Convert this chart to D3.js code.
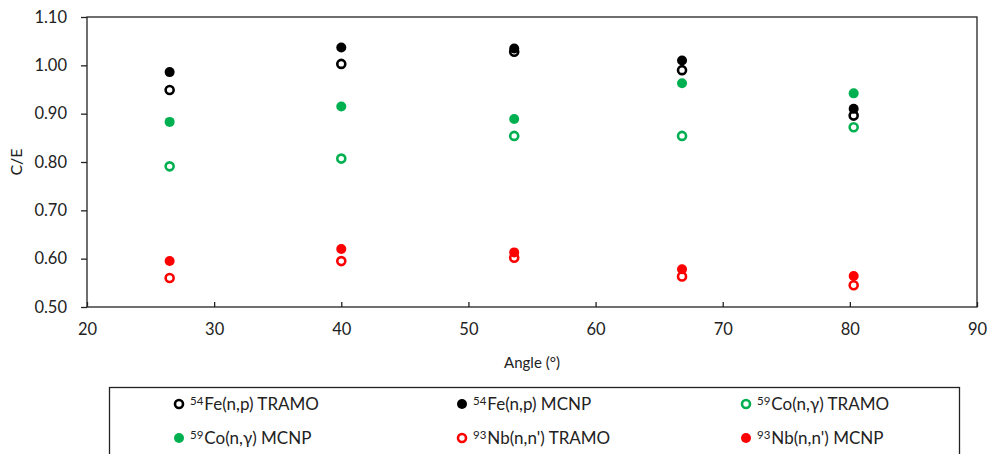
<!DOCTYPE html>
<html lang="en">
  <head>
    <meta charset="UTF-8" />
    <title>C/E vs Angle</title>
    <style>
      body { margin: 0; background: #fff; }
      svg { display: block; font-family: Lato, "Open Sans", sans-serif; }
    </style>
  </head>
  <body>
    <div class="chart"></div>
    <script src="https://d3js.org/d3.v7.min.js"></script>
    <script>
      // angles of the five dosimeter positions
      var angles = [26.5, 40.0, 53.6, 66.8, 80.3];

      var feTramo = [0.949, 1.003, 1.028, 0.990, 0.896];
      var feMcnp  = [0.986, 1.037, 1.035, 1.010, 0.910];
      var coTramo = [0.791, 0.807, 0.854, 0.854, 0.872];
      var coMcnp  = [0.883, 0.915, 0.889, 0.963, 0.942];
      var nbTramo = [0.560, 0.595, 0.602, 0.563, 0.545];
      var nbMcnp  = [0.595, 0.620, 0.613, 0.578, 0.564];

      var xTicks = [20, 30, 40, 50, 60, 70, 80, 90];
      var yTicks = [0.5, 0.6, 0.7, 0.8, 0.9, 1.0, 1.1];

      var series = [
        { iso: "54", name: "Fe(n,p) TRAMO",   values: feTramo, color: "#000000", hollow: true },
        { iso: "54", name: "Fe(n,p) MCNP",    values: feMcnp,  color: "#000000", hollow: false },
        { iso: "59", name: "Co(n,\u03b3) TRAMO", values: coTramo, color: "#00b050", hollow: true },
        { iso: "59", name: "Co(n,\u03b3) MCNP",  values: coMcnp,  color: "#00b050", hollow: false },
        { iso: "93", name: "Nb(n,n') TRAMO",  values: nbTramo, color: "#ff0000", hollow: true },
        { iso: "93", name: "Nb(n,n') MCNP",   values: nbMcnp,  color: "#ff0000", hollow: false }
      ];

      var w = 989, h = 454;
      var pLeft = 87, pRight = 977, pTop = 17, pBottom = 307;

      var svg = d3.select(".chart").append("svg")
        .attr("width", w)
        .attr("height", h);

      var x = d3.scaleLinear().domain([20, 90]).range([pLeft, pRight]);
      var y = d3.scaleLinear().domain([0.5, 1.1]).range([pBottom, pTop]);

      // y axis, ticks outside
      var yAxis = svg.append("g")
        .attr("transform", "translate(" + pLeft + ",0)")
        .call(d3.axisLeft(y).tickValues(yTicks).tickFormat(d3.format(".2f")).tickSize(6).tickPadding(14));

      // x axis, ticks pointing in
      var xAxis = svg.append("g")
        .attr("transform", "translate(0," + pBottom + ")")
        .call(d3.axisBottom(x).tickValues(xTicks).tickFormat(d3.format("d")).tickSizeInner(-5).tickSizeOuter(0).tickPadding(16));

      [yAxis, xAxis].forEach(function(a) {
        a.select(".domain").remove();
        a.selectAll("line").attr("stroke", "#222").attr("stroke-width", 1.3);
        a.selectAll("text").attr("font-size", "16.5px").attr("fill", "#222").attr("font-family", "Lato, sans-serif");
      });

      // plot frame
      svg.append("rect")
        .attr("x", pLeft).attr("y", pTop)
        .attr("width", pRight - pLeft).attr("height", pBottom - pTop)
        .attr("fill", "none")
        .attr("stroke", "#222")
        .attr("stroke-width", 1.3);

      svg.append("text")
        .attr("transform", "translate(22," + ((pTop + pBottom) / 2) + ") rotate(-90)")
        .attr("text-anchor", "middle")
        .attr("font-size", "16px")
        .attr("fill", "#222")
        .text("C/E");

      svg.append("text")
        .attr("x", (pLeft + pRight) / 2)
        .attr("y", 368)
        .attr("text-anchor", "middle")
        .attr("font-size", "15px")
        .attr("fill", "#222")
        .text("Angle (\u00b0)");

      function drawMarker(sel, s) {
        sel.attr("r", s.hollow ? 4 : 5)
          .attr("fill", s.hollow ? "#fff" : s.color)
          .attr("stroke", s.hollow ? s.color : "none")
          .attr("stroke-width", s.hollow ? 2.6 : 0);
      }

      series.forEach(function(s) {
        svg.append("g").selectAll("circle")
          .data(s.values)
          .enter()
          .append("circle")
          .attr("cx", function(d, i) { return x(angles[i]); })
          .attr("cy", function(d) { return y(d); })
          .call(drawMarker, s);
      });

      // legend box
      var legend = svg.append("g");
      legend.append("rect")
        .attr("x", 109.5).attr("y", 387.5)
        .attr("width", 850).attr("height", 80)
        .attr("fill", "none")
        .attr("stroke", "#222")
        .attr("stroke-width", 1.3);

      var colX = [179, 462, 746];
      var rowY = [404, 438];

      series.forEach(function(s, i) {
        var cx = colX[i % 3], cy = rowY[Math.floor(i / 3)];
        legend.append("circle")
          .attr("cx", cx).attr("cy", cy)
          .call(drawMarker, s);
        var t = legend.append("text")
          .attr("x", cx + 11)
          .attr("y", cy + 6)
          .attr("font-size", "17px")
          .attr("fill", "#222");
        t.append("tspan").attr("font-size", "11.5px").attr("dy", "-5").text(s.iso);
        t.append("tspan").attr("dy", "5").attr("dx", "1").text(s.name);
      });
    </script>
  </body>
</html>
